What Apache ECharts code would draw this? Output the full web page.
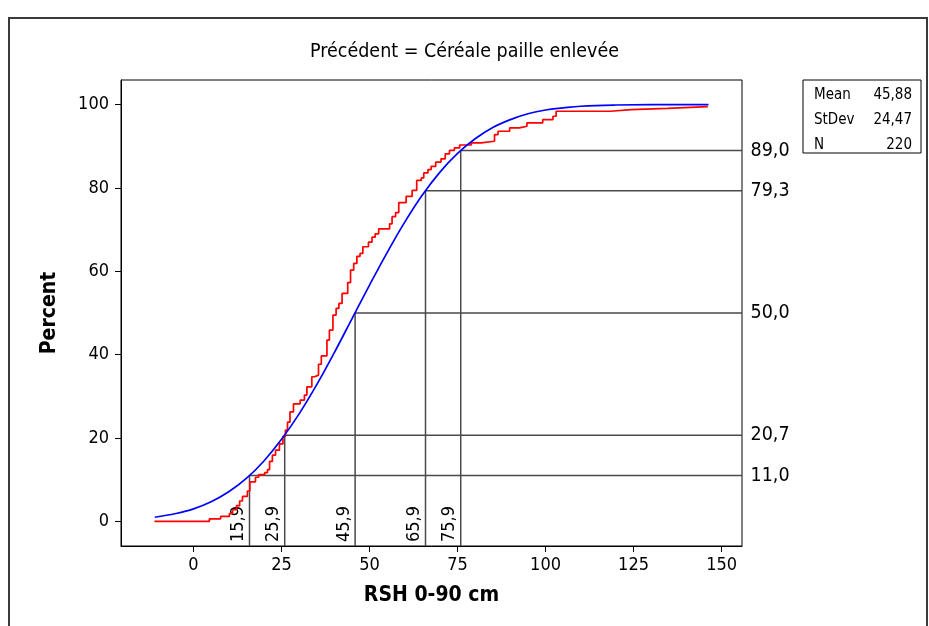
<!DOCTYPE html>
<html>
<head>
<meta charset="utf-8">
<title>Précédent = Céréale paille enlevée</title>
<script src="https://cdn.jsdelivr.net/npm/echarts@6/dist/echarts.min.js"></script>
<style>
  html, body { margin: 0; padding: 0; background: #fff; }
  #chart { width: 929px; height: 626px; }
</style>
</head>
<body>
<div id="chart"></div>
<script>
// Empirical cumulative distribution of RSH 0-90 cm: [value, cumulative percent] at each jump
const empiricalSteps = [
  [-11.1, 0], [4.5, 0.6], [7.7, 1.2], [10.2, 1.9], [11.1, 2.8], [12.2, 3.8],
  [13.1, 4.9], [13.9, 6.0], [15.3, 7.3], [16.0, 9.5], [17.6, 10.6], [18.5, 11.2],
  [20.2, 11.7], [21.0, 12.4], [21.6, 14.4], [22.4, 15.9], [23.3, 17.1], [24.4, 18.6],
  [25.4, 20.4], [26.1, 21.9], [26.7, 23.8], [27.4, 26.3], [28.4, 28.2], [30.3, 29.1],
  [31.5, 30.3], [32.2, 32.3], [33.6, 34.7], [34.4, 35.1], [35.5, 37.7], [36.3, 39.7],
  [37.9, 43.5], [38.6, 45.9], [39.6, 49.5], [40.5, 51.1], [41.3, 52.3], [42.2, 54.7],
  [43.8, 57.3], [44.6, 60.3], [45.5, 61.9], [46.4, 63.6], [47.3, 64.3], [48.1, 65.9],
  [49.7, 67.0], [50.7, 68.2], [51.6, 69.0], [52.6, 70.2], [55.7, 71.4], [56.4, 73.1],
  [57.4, 74.1], [58.3, 76.5], [60.4, 78.0], [62.1, 79.4], [63.4, 81.8], [64.7, 82.4],
  [65.4, 83.6], [66.6, 84.4], [67.5, 85.2], [68.8, 86.2], [70.3, 87.0], [71.5, 88.2],
  [72.7, 89.0], [74.1, 89.6], [75.6, 90.3], [78.9, 90.8], [81.7, 91.2], [85.5, 92.8],
  [86.5, 93.6], [89.8, 94.4], [92.6, 94.8], [94.7, 95.6], [99.2, 96.4], [102.1, 97.2],
  [103.0, 98.4], [118.5, 98.8], [124.3, 99.1], [134.6, 99.5], [146.1, 99.5]
];

// Fitted normal cumulative curve: [value, percent]
const normalFit = [
  [-11, 1.0], [-5, 1.9], [0, 3.0], [5, 4.7], [10, 7.1], [15, 10.3], [20, 14.5],
  [25, 19.7], [30, 25.8], [35, 32.8], [40, 40.5], [45, 48.6], [50, 56.7], [55, 64.5],
  [60, 71.8], [65, 78.3], [70, 83.8], [75, 88.3], [80, 91.8], [85, 94.5], [90, 96.4],
  [95, 97.8], [100, 98.7], [105, 99.2], [110, 99.6], [120, 99.9], [130, 100], [146.3, 100]
];

// Percentile reference lines
const refValues = [15.9, 25.9, 45.9, 65.9, 75.9];
const refPercents = [11.0, 20.7, 50.0, 79.3, 89.0];

// Tick labels
const xTicks = [0, 25, 50, 75, 100, 125, 150];
const yTicks = [0, 20, 40, 60, 80, 100];

// Summary statistics box
const statNames = ['Mean', 'StDev', 'N'];
const statValues = ['45,88', '24,47', '220'];

const titleText = 'Précédent = Céréale paille enlevée';
const xName = 'RSH 0-90 cm';
const yName = 'Percent';

const X_MIN = -20.6, X_MAX = 155.8;
const Y_MIN = -5.9, Y_MAX = 105.9;

const FONT = 'Tahoma, "DejaVu Sans Condensed", "Liberation Sans", sans-serif';
const fmt = v => v.toFixed(1).replace('.', ',');

// Each reference: vertical from the bottom edge up to the curve, then across to the right edge
const refSeries = refValues.map((xv, i) => ({
  type: 'line',
  z: 1,
  silent: true,
  symbol: 'circle',
  symbolSize: 1,
  showSymbol: true,
  itemStyle: { color: 'rgba(0,0,0,0)' },
  lineStyle: { color: '#4a4a4a', width: 1.5 },
  data: [
    {
      value: [xv, Y_MIN],
      label: {
        show: true, position: 'inside', rotate: 90,
        align: 'left', verticalAlign: 'bottom',
        padding: [0, 0, 2, 4],
        formatter: fmt(xv), fontFamily: FONT, fontSize: 18, color: '#000'
      }
    },
    [xv, refPercents[i]],
    {
      value: [X_MAX, refPercents[i]],
      label: {
        show: true, position: 'right', distance: 8,
        formatter: fmt(refPercents[i]), fontFamily: FONT, fontSize: 19.5, color: '#000'
      }
    }
  ]
}));

const chart = echarts.init(document.getElementById('chart'), null, { renderer: 'canvas' });

const boxX = 803, boxY = 80, boxW = 118, boxH = 73;
const statGraphics = [
  { type: 'rect', shape: { x: boxX, y: boxY, width: boxW, height: boxH },
    style: { fill: '#fff', stroke: '#000', lineWidth: 1 } }
];
statNames.forEach((n, i) => {
  statGraphics.push({ type: 'text', x: boxX + 11, y: boxY + 15 + i * 25,
    style: { text: n, font: '15px ' + FONT, fill: '#000', textVerticalAlign: 'middle' } });
  statGraphics.push({ type: 'text', x: boxX + boxW - 9, y: boxY + 15 + i * 25,
    style: { text: statValues[i], font: '15px ' + FONT, fill: '#000', textAlign: 'right', textVerticalAlign: 'middle' } });
});

chart.setOption({
  animation: false,
  backgroundColor: '#fff',
  title: {
    text: titleText, left: 'center', top: 37,
    textStyle: { fontFamily: FONT, fontSize: 19.5, fontWeight: 'normal', color: '#000' }
  },
  grid: {
    left: 121, top: 80, right: 187, bottom: 80,
    show: true, borderColor: '#000', borderWidth: 1, backgroundColor: 'transparent'
  },
  xAxis: {
    type: 'value', min: X_MIN, max: X_MAX,
    name: xName, nameLocation: 'middle', nameGap: 39,
    nameTextStyle: { fontFamily: FONT, fontSize: 21, fontWeight: 'bold', color: '#000' },
    axisLine: { show: true, onZero: false, lineStyle: { color: '#000', width: 1 } },
    axisTick: { show: true, length: 6, customValues: xTicks, lineStyle: { color: '#000' } },
    axisLabel: { customValues: xTicks, margin: 10, fontFamily: FONT, fontSize: 18, color: '#000' },
    splitLine: { show: false }
  },
  yAxis: {
    type: 'value', min: Y_MIN, max: Y_MAX,
    name: yName, nameLocation: 'middle', nameGap: 61, nameRotate: 90,
    nameTextStyle: { fontFamily: FONT, fontSize: 21, fontWeight: 'bold', color: '#000' },
    axisLine: { show: true, onZero: false, lineStyle: { color: '#000', width: 1 } },
    axisTick: { show: true, length: 6, customValues: yTicks, lineStyle: { color: '#000' } },
    axisLabel: { customValues: yTicks, margin: 12, fontFamily: FONT, fontSize: 18, color: '#000' },
    splitLine: { show: false }
  },
  graphic: [
    { type: 'rect', shape: { x: 9, y: 18, width: 918, height: 640 },
      style: { fill: 'none', stroke: '#3a3a3a', lineWidth: 2 }, silent: true },
    { type: 'group', children: statGraphics }
  ],
  series: [
    ...refSeries,
    {
      type: 'line', name: 'Empirical', step: 'end', z: 3,
      showSymbol: false, data: empiricalSteps,
      lineStyle: { color: '#ff0000', width: 1.7 }
    },
    {
      type: 'line', name: 'Normal', smooth: 0.4, z: 4,
      showSymbol: false, data: normalFit,
      lineStyle: { color: '#0000ff', width: 1.7 }
    }
  ]
});
</script>
</body>
</html>
